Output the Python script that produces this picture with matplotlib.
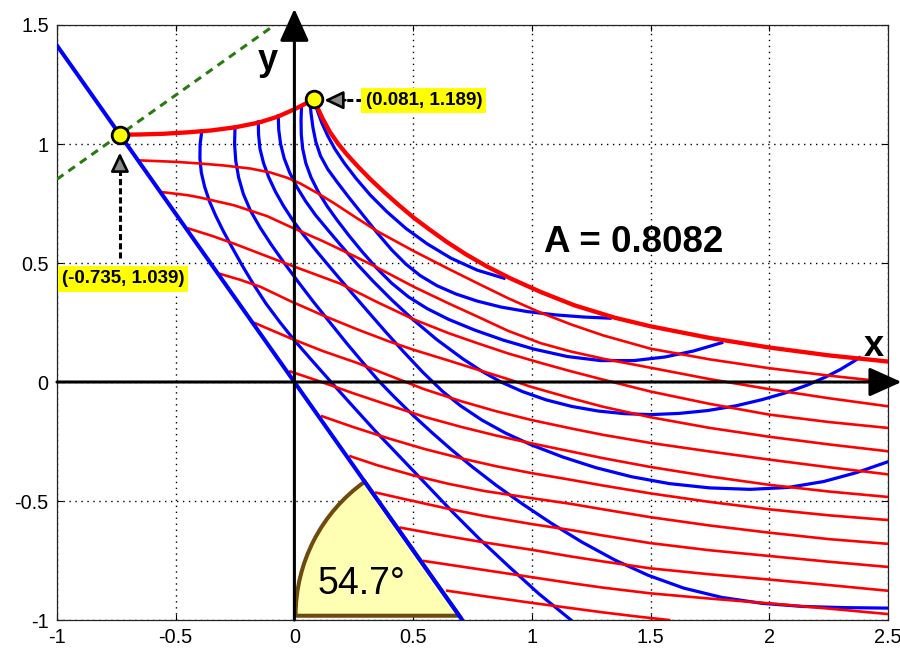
import numpy as np
import matplotlib
matplotlib.use('Agg')
import matplotlib.pyplot as plt
from matplotlib.patches import Wedge

plt.rcParams['font.family'] = ['Liberation Sans', 'DejaVu Sans']

# axis ticks
xticks = [-1, -0.5, 0, 0.5, 1, 1.5, 2, 2.5]
xtick_labels = ['-1', '-0.5', '0', '0.5', '1', '1.5', '2', '2.5']
yticks = [-1, -0.5, 0, 0.5, 1, 1.5]
ytick_labels = ['-1', '-0.5', '0', '0.5', '1', '1.5']

# marked points
pt_left = (-0.735, 1.039)
pt_right = (0.081, 1.189)
area_A = 0.8082
wedge_angle = 54.7

# wall (thick blue) and tangent (green dashed)
wall = [(-1.0, 1.414), (0.707, -1.0)]
tangent = [(-1.0, 0.852), (-0.083, 1.5)]

# thick red boundaries
red_top = [(-0.735, 1.039), (-0.65, 1.040), (-0.55, 1.043), (-0.45, 1.049), (-0.35, 1.057),
           (-0.25, 1.070), (-0.15, 1.090), (-0.07, 1.115), (0.0, 1.146), (0.04, 1.166), (0.081, 1.189)]
red_outer = [(0.081, 1.189), (0.096, 1.155), (0.12, 1.105), (0.15, 1.050), (0.185, 1.000),
             (0.222, 0.955), (0.27, 0.903), (0.32, 0.852), (0.38, 0.796), (0.44, 0.743),
             (0.503, 0.690), (0.57, 0.640), (0.64, 0.590), (0.72, 0.538), (0.81, 0.486),
             (0.911, 0.435), (1.038, 0.378), (1.18, 0.322), (1.35, 0.270), (1.5, 0.234),
             (1.75, 0.185), (2.0, 0.145), (2.25, 0.112), (2.5, 0.086)]

# thin red curves
r1 = [(-0.65, 0.931), (-0.5, 0.925), (-0.397, 0.918), (-0.3, 0.910), (-0.186, 0.897), (-0.1, 0.880),
      (-0.03, 0.858), (0.025, 0.834), (0.1, 0.792), (0.166, 0.752), (0.25, 0.697), (0.35, 0.633),
      (0.503, 0.550), (0.65, 0.475), (0.771, 0.415), (0.9, 0.352), (1.038, 0.291), (1.165, 0.242),
      (1.3, 0.196), (1.5, 0.140), (1.75, 0.095), (2.0, 0.058), (2.25, 0.027), (2.5, 0.0)]
r2 = [(-0.558, 0.798), (-0.45, 0.785), (-0.397, 0.775), (-0.256, 0.743), (-0.115, 0.697),
      (-0.017, 0.652), (0.124, 0.590), (0.25, 0.530), (0.335, 0.488), (0.503, 0.400), (0.65, 0.330),
      (0.771, 0.275), (0.9, 0.215), (1.038, 0.163), (1.165, 0.128), (1.3, 0.098), (1.5, 0.060),
      (1.75, 0.012), (2.0, -0.030), (2.25, -0.068), (2.5, -0.102)]
r3 = [(-0.446, 0.645), (-0.35, 0.615), (-0.256, 0.582), (-0.115, 0.528), (-0.017, 0.491),
      (0.194, 0.413), (0.35, 0.335), (0.503, 0.263), (0.65, 0.205), (0.771, 0.163), (0.9, 0.120),
      (1.038, 0.080), (1.165, 0.045), (1.3, 0.010), (1.5, -0.040), (1.75, -0.092), (2.0, -0.137),
      (2.25, -0.168), (2.5, -0.193)]
r4 = [(-0.312, 0.454), (-0.23, 0.430), (-0.143, 0.400), (-0.017, 0.340), (0.12, 0.280),
      (0.265, 0.221), (0.4, 0.170), (0.503, 0.135), (0.65, 0.090), (0.771, 0.052), (0.9, 0.012),
      (0.996, -0.020), (1.165, -0.068), (1.3, -0.104), (1.5, -0.148), (1.75, -0.193), (2.0, -0.230),
      (2.25, -0.262), (2.5, -0.291)]
r5 = [(-0.165, 0.247), (-0.09, 0.215), (-0.017, 0.184), (0.12, 0.130), (0.265, 0.080), (0.4, 0.027),
      (0.546, -0.030), (0.7, -0.080), (0.85, -0.123), (1.0, -0.160), (1.165, -0.195), (1.3, -0.222),
      (1.5, -0.256), (1.75, -0.292), (2.0, -0.326), (2.25, -0.358), (2.5, -0.388)]
r6 = [(-0.017, 0.044), (0.1, 0.005), (0.25, -0.048), (0.4, -0.098), (0.55, -0.147), (0.7, -0.188),
      (0.85, -0.225), (1.0, -0.258), (1.165, -0.292), (1.3, -0.320), (1.5, -0.357), (1.75, -0.397),
      (2.0, -0.432), (2.25, -0.460), (2.5, -0.483)]
r7 = [(0.117, -0.144), (0.25, -0.190), (0.4, -0.238), (0.55, -0.282), (0.7, -0.320), (0.85, -0.354),
      (1.0, -0.383), (1.165, -0.411), (1.3, -0.435), (1.5, -0.468), (1.75, -0.504), (2.0, -0.535),
      (2.25, -0.560), (2.5, -0.580)]
r8 = [(0.236, -0.312), (0.35, -0.350), (0.5, -0.392), (0.65, -0.428), (0.8, -0.458), (1.0, -0.488),
      (1.165, -0.512), (1.3, -0.535), (1.5, -0.568), (1.75, -0.603), (2.0, -0.633), (2.25, -0.660),
      (2.5, -0.680)]
r9 = [(0.345, -0.465), (0.5, -0.500), (0.65, -0.533), (0.8, -0.563), (1.0, -0.597), (1.165, -0.622),
      (1.3, -0.645), (1.5, -0.677), (1.75, -0.707), (2.0, -0.731), (2.25, -0.755), (2.5, -0.777)]
r10 = [(0.447, -0.612), (0.6, -0.640), (0.8, -0.674), (1.0, -0.705), (1.165, -0.733), (1.3, -0.754),
       (1.5, -0.783), (1.75, -0.808), (2.0, -0.830), (2.25, -0.853), (2.5, -0.877)]
r11 = [(0.546, -0.752), (0.7, -0.775), (0.9, -0.805), (1.0, -0.820), (1.165, -0.845), (1.3, -0.864),
       (1.5, -0.888), (1.75, -0.910), (2.0, -0.930), (2.25, -0.952), (2.5, -0.975)]
r12 = [(0.644, -0.877), (0.8, -0.900), (1.0, -0.928), (1.165, -0.950), (1.3, -0.968), (1.45, -0.986),
       (1.578, -1.0)]

# thin blue curves
b1 = [(-0.39, 1.055), (-0.397, 1.0), (-0.398, 0.94), (-0.392, 0.88), (-0.378, 0.82), (-0.358, 0.76),
      (-0.332, 0.70), (-0.30, 0.635), (-0.262, 0.565), (-0.22, 0.49), (-0.172, 0.41), (-0.12, 0.33),
      (-0.06, 0.25), (0.0, 0.175), (0.07, 0.095), (0.15, 0.005), (0.24, -0.095), (0.34, -0.205),
      (0.45, -0.32), (0.56, -0.435), (0.67, -0.55), (0.78, -0.66), (0.9, -0.772), (1.03, -0.89),
      (1.165, -1.0)]
b2 = [(-0.25, 1.072), (-0.252, 1.0), (-0.247, 0.93), (-0.235, 0.86), (-0.215, 0.79), (-0.185, 0.72),
      (-0.145, 0.65), (-0.098, 0.578), (-0.045, 0.503), (0.015, 0.422), (0.08, 0.337), (0.15, 0.25),
      (0.22, 0.163), (0.29, 0.08), (0.355, 0.005), (0.42, -0.062), (0.50, -0.140), (0.58, -0.213),
      (0.66, -0.283), (0.75, -0.357), (0.85, -0.434), (0.96, -0.512), (1.08, -0.592), (1.21, -0.672),
      (1.35, -0.748), (1.49, -0.812), (1.64, -0.866), (1.80, -0.905), (1.97, -0.930), (2.14, -0.943),
      (2.32, -0.948), (2.5, -0.950)]
b3 = [(-0.152, 1.093), (-0.151, 1.04), (-0.145, 0.98), (-0.13, 0.92), (-0.108, 0.86), (-0.08, 0.80),
      (-0.046, 0.74), (-0.007, 0.68), (0.037, 0.62), (0.085, 0.56), (0.135, 0.50), (0.19, 0.435),
      (0.25, 0.365), (0.315, 0.29), (0.385, 0.21), (0.46, 0.127), (0.54, 0.042), (0.625, -0.040),
      (0.70, -0.100), (0.79, -0.160), (0.89, -0.215), (1.0, -0.265), (1.13, -0.315), (1.27, -0.360),
      (1.42, -0.398), (1.58, -0.427), (1.75, -0.445), (1.92, -0.451), (2.08, -0.443), (2.23, -0.418),
      (2.37, -0.380), (2.5, -0.335)]
b4 = [(-0.068, 1.118), (-0.066, 1.06), (-0.058, 1.0), (-0.043, 0.94), (-0.02, 0.88), (0.01, 0.82),
      (0.047, 0.76), (0.09, 0.70), (0.14, 0.64), (0.195, 0.575), (0.26, 0.50), (0.33, 0.425),
      (0.41, 0.345), (0.50, 0.262), (0.60, 0.178), (0.71, 0.097), (0.79, 0.045), (0.87, 0.0),
      (0.96, -0.040), (1.06, -0.075), (1.17, -0.103), (1.28, -0.122), (1.39, -0.133), (1.5, -0.137),
      (1.62, -0.132), (1.74, -0.120), (1.86, -0.100), (1.97, -0.074), (2.07, -0.045), (2.16, -0.013),
      (2.24, 0.022), (2.30, 0.053), (2.353, 0.085), (2.38, 0.102)]
b5 = [(0.03, 1.16), (0.028, 1.10), (0.029, 1.04), (0.035, 0.98), (0.048, 0.92), (0.07, 0.86),
      (0.10, 0.80), (0.137, 0.74), (0.18, 0.68), (0.23, 0.615), (0.285, 0.548), (0.345, 0.48),
      (0.41, 0.415), (0.48, 0.358), (0.56, 0.308), (0.65, 0.263), (0.76, 0.218), (0.88, 0.176),
      (1.01, 0.138), (1.15, 0.107), (1.29, 0.090), (1.43, 0.090), (1.56, 0.105), (1.68, 0.130),
      (1.80, 0.165)]
b6 = [(0.065, 1.18), (0.07, 1.13), (0.078, 1.07), (0.09, 1.01), (0.11, 0.95), (0.14, 0.895),
      (0.18, 0.84), (0.23, 0.775), (0.29, 0.70), (0.35, 0.625), (0.41, 0.555), (0.47, 0.495),
      (0.53, 0.447), (0.60, 0.405), (0.68, 0.37), (0.77, 0.34), (0.87, 0.315), (0.98, 0.296),
      (1.10, 0.282), (1.22, 0.273), (1.33, 0.268)]
b7 = [(0.081, 1.189), (0.095, 1.145), (0.115, 1.09), (0.14, 1.035), (0.17, 0.98), (0.21, 0.92),
      (0.26, 0.855), (0.32, 0.785), (0.39, 0.715), (0.47, 0.645), (0.56, 0.58), (0.66, 0.52),
      (0.77, 0.47), (0.883, 0.436)]

blue_curves = [b1, b2, b3, b4, b5, b6, b7]
red_curves = [r1, r2, r3, r4, r5, r6, r7, r8, r9, r10, r11, r12]


def xy(pts):
    a = np.array(pts)
    return a[:, 0], a[:, 1]


fig = plt.figure(figsize=(9, 6.51), dpi=100)
ax = fig.add_axes([0.0633, 0.0476, 0.9233, 0.914])
ax.set_xlim(-1, 2.5)
ax.set_ylim(-1, 1.5)
ax.set_xticks(xticks)
ax.set_xticklabels(xtick_labels)
ax.set_yticks(yticks)
ax.set_yticklabels(ytick_labels)
ax.tick_params(direction='in', top=True, right=True, length=4, width=0.8,
               labelsize=14.3, pad=6)
for s in ax.spines.values():
    s.set_linewidth(0.9)
    s.set_color('#222222')
ax.grid(True, color='k', linewidth=1.0, linestyle=(0, (1, 3.3)))
ax.set_axisbelow(True)

for c in blue_curves:
    ax.plot(*xy(c), color='#0000ff', lw=2.3, zorder=2, solid_joinstyle='round')
for c in red_curves:
    ax.plot(*xy(c), color='#ff0000', lw=1.9, zorder=3, solid_joinstyle='round')

# sector showing the wall angle
ax.add_patch(Wedge((0.695, -0.982), 0.69, 180 - wedge_angle, 180, facecolor='#ffffb4',
                   edgecolor='#6e4a0e', lw=2.9, zorder=3.5))
ax.text(0.283, -0.85, '%.1f°' % wedge_angle, fontsize=27, ha='center', va='center', zorder=6)

ax.plot(*xy(wall), color='#0000ff', lw=2.9, zorder=4)
ax.plot(*xy(red_top), color='#ff0000', lw=3.1, zorder=4, solid_capstyle='round')
ax.plot(*xy(red_outer), color='#ff0000', lw=3.1, zorder=4, solid_capstyle='round')
ax.plot(*xy(tangent), color='#2a7a12', lw=2.2, dashes=(2.6, 2.0), zorder=4)

# coordinate axes with arrows
ax.annotate('', xy=(2.557, 0), xytext=(-1, 0), annotation_clip=False, zorder=6,
            arrowprops=dict(arrowstyle='-|>,head_length=2.0,head_width=0.9', lw=2.2,
                            color='k', shrinkA=0, shrinkB=0))
ax.annotate('', xy=(0, 1.568), xytext=(0, -1), annotation_clip=False, zorder=6,
            arrowprops=dict(arrowstyle='-|>,head_length=2.0,head_width=0.9', lw=2.2,
                            color='k', shrinkA=0, shrinkB=0))
ax.text(2.44, 0.15, 'x', fontsize=26, fontweight='bold', ha='center', va='center', zorder=6)
ax.text(-0.114, 1.35, 'y', fontsize=26, fontweight='bold', ha='center', va='center', zorder=6)

ax.text(1.05, 0.586, 'A = %.4f' % area_A, fontsize=26.5, fontweight='bold', ha='left',
        va='center', zorder=6)

# labelled points
ax.plot([pt_left[0], pt_right[0]], [pt_left[1], pt_right[1]], 'o', ms=12, mfc='#ffff00',
        mec='k', mew=2.0, zorder=9, ls='none')

box = dict(boxstyle='square,pad=0.22', fc='#ffff00', ec='none')
ax.text(-0.722, 0.433, '(%.3f, %.3f)' % pt_left, fontsize=13.5, fontweight='bold',
        ha='center', va='center', bbox=box, zorder=8)
ax.text(0.30, 1.184, '(%.3f, %.3f)' % pt_right, fontsize=13.5, fontweight='bold',
        ha='left', va='center', bbox=box, zorder=8)

# dashed leader lines + arrow heads
head = dict(arrowstyle='-|>,head_length=1.15,head_width=0.55', lw=1.9,
            fc='#8a8a8a', ec='k', shrinkA=0, shrinkB=0)
ax.plot([pt_left[0], pt_left[0]], [0.52, 0.90], color='k', lw=2.2, dashes=(2, 1), zorder=7)
ax.annotate('', xy=(pt_left[0], pt_left[1] - 0.075), xytext=(pt_left[0], 0.89), zorder=7,
            arrowprops=head)
ax.plot([0.285, 0.205], [1.184, 1.184], color='k', lw=2.2, dashes=(2, 1), zorder=7)
ax.annotate('', xy=(pt_right[0] + 0.045, 1.184), xytext=(0.215, 1.184), zorder=7,
            arrowprops=head)

fig.savefig('out.png', dpi=100)
